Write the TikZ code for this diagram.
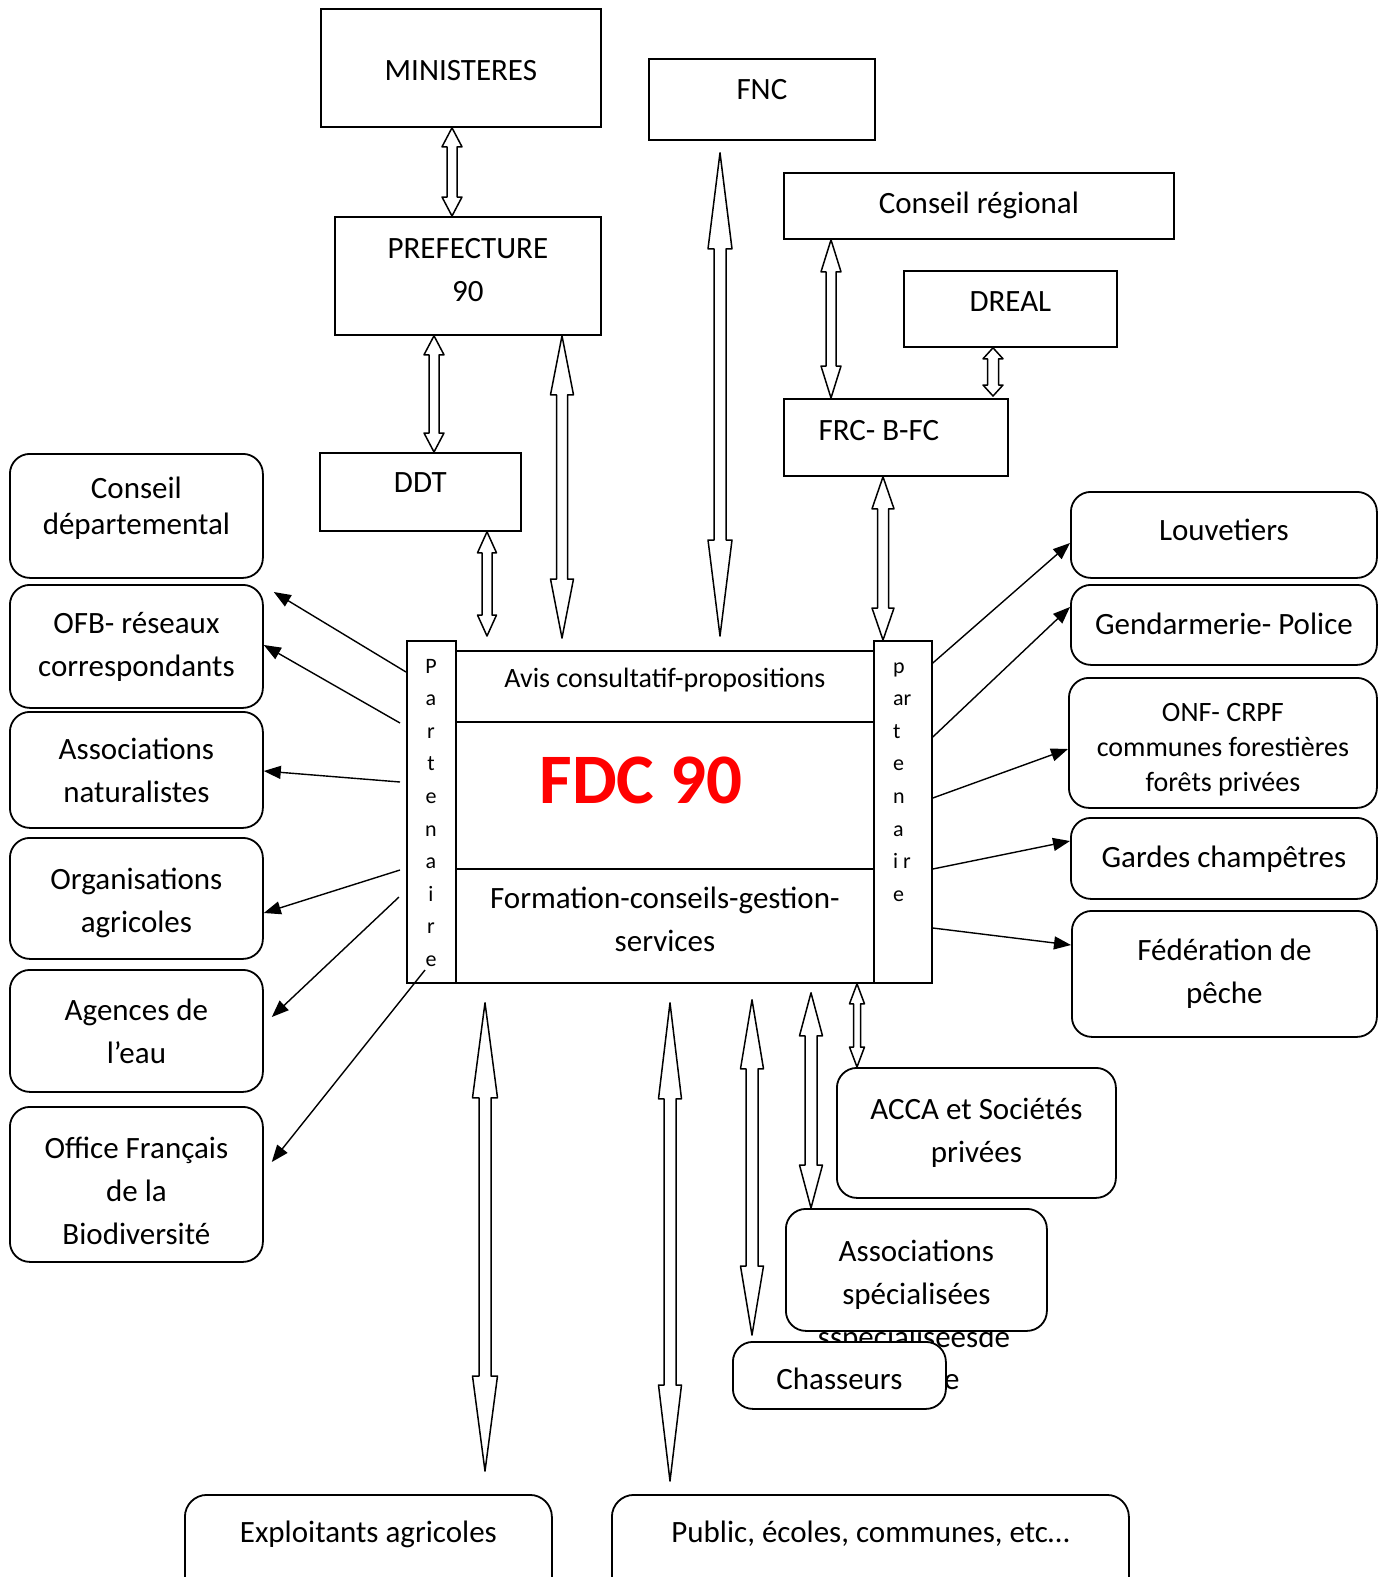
\documentclass[tikz,border=0pt]{standalone}
\usepackage{fontspec}
\setmainfont{Carlito}
\usetikzlibrary{arrows.meta,calc}

\definecolor{fdcred}{RGB}{255,0,0}
\newcommand{\boxfont}{\fontsize{31pt}{43pt}\selectfont}
\newcommand{\tightfont}{\fontsize{31pt}{36pt}\selectfont}
\newcommand{\smallboxfont}{\fontsize{28pt}{35pt}\selectfont}
\newcommand{\partfont}{\fontsize{22pt}{26pt}\selectfont}
\newcommand{\fdcfont}{\fontsize{71pt}{80pt}\selectfont\bfseries}
% invisible struts to move multi-line text up (depth) or down (height)
\newcommand{\upby}[1]{\rule[-#1]{0pt}{0pt}}
\newcommand{\downby}[1]{\rule{0pt}{#1}}

% hollow double arrow: x, top end, bottom end, head length, head half width, body half width
\newcommand{\dblarrow}[6]{%
  \path[blockarrow] let \p1=(#2), \p2=(#3) in
    (#1pt,\y1) -- (#1pt+#5pt,\y1-#4pt) -- (#1pt+#6pt,\y1-#4pt)
    -- (#1pt+#6pt,\y2+#4pt) -- (#1pt+#5pt,\y2+#4pt) -- (#1pt,\y2)
    -- (#1pt-#5pt,\y2+#4pt) -- (#1pt-#6pt,\y2+#4pt)
    -- (#1pt-#6pt,\y1-#4pt) -- (#1pt-#5pt,\y1-#4pt) -- cycle;}

\begin{document}
\begin{tikzpicture}[x=1pt, y=-1pt,
    rect/.style={draw, line width=1.8pt, anchor=north west, inner sep=0pt, font=\boxfont},
    rbox/.style={rect, rounded corners=20pt},
    blockarrow/.style={draw, line width=1.5pt, fill=white, line join=round},
    thinarrow/.style={line width=1.4pt, -{Triangle[length=17pt,width=13pt]}},
    parttext/.style={font=\partfont, inner sep=0pt}]
\useasboundingbox (0,0) rectangle (1386,1577);
\clip (0,0) rectangle (1386,1577);

% Administrations (top)
\node[rect, minimum width=280, text height=72, text depth=46] (mini) at (320,8) {MINISTERES};
\node[rect, minimum width=226, text height=41, text depth=40] (fnc) at (648,58) {FNC};
\node[rect, minimum width=390, text height=41, text depth=25] (creg) at (783,172) {Conseil régional};
\node[rect, minimum width=213, text height=41, text depth=35] (dreal) at (903,270) {DREAL};
\node[rect, minimum width=266, minimum height=118, align=center] (pref) at (334,216) {PREFECTURE\\90\upby{12pt}};
\node[rect, minimum width=201, text height=40, text depth=38] (ddt) at (319,452) {DDT};
\node[rect, minimum width=224, text height=42, text depth=35] (frc) at (783,398) {FRC- B-FC\hspace*{34pt}};

% FDC 90
\node[rect, minimum width=49, minimum height=342] (lpart) at (406,640) {};
\node[rect, minimum width=58, minimum height=342] (rpart) at (873,640) {};
\node[rect, minimum width=418, text height=37, text depth=34, font=\smallboxfont] (avis) at (455,650) {Avis consultatif-propositions};
\node[rect, minimum width=418, minimum height=147] (fdcbox) at (455,721) {};
\node[font=\fdcfont, text=fdcred, inner sep=0pt] (fdctitle) at (641,780) {FDC 90};
\node[rect, minimum width=418, minimum height=114, align=center] (formation) at (455,868) {Formation-conseils-gestion-\\services\upby{13pt}};
\foreach \c [count=\i] in {P,a,r,t,e,n,a,i,r,e}
  \node[parttext, anchor=base] (lp\i) at (431,{673+32.6*(\i-1)}) {\c};
\foreach \c [count=\i] in {p,ar,t,e,n,a,i r,e}
  \node[parttext, anchor=base west] (rp\i) at (893,{673+32.6*(\i-1)}) {\c};

% Partenaires gauche
\node[rbox, minimum width=253, minimum height=124, align=center, font=\tightfont] (cdep) at (9,453) {Conseil\\départemental\upby{21pt}};
\node[rbox, minimum width=253, minimum height=123, align=center] (ofb) at (9,584) {OFB- réseaux\\correspondants};
\node[rbox, minimum width=253, minimum height=116, align=center] (asnat) at (9,711) {Associations\\naturalistes};
\node[rbox, minimum width=253, minimum height=121, align=center] (orga) at (9,837) {\downby{31pt}Organisations\\agricoles};
\node[rbox, minimum width=253, minimum height=122, align=center] (agences) at (9,969) {Agences de\\l’eau};
\node[rbox, minimum width=253, minimum height=155, align=center] (office) at (9,1106) {\downby{35pt}Office Français\\de la\\Biodiversité};

% Partenaires droite
\node[rbox, minimum width=306, text height=49, text depth=37] (louv) at (1070,491) {Louvetiers};
\node[rbox, minimum width=306, text height=50, text depth=30] (gend) at (1070,584) {Gendarmerie- Police};
\node[rbox, minimum width=308, minimum height=130, align=center, font=\smallboxfont] (onf) at (1068,677) {\downby{32pt}ONF- CRPF\\communes forestières\\forêts privées};
\node[rbox, minimum width=306, text height=50, text depth=31] (gardes) at (1070,817) {Gardes champêtres};
\node[rbox, minimum width=305, minimum height=126, align=center] (fede) at (1071,910) {Fédération de\\pêche};

% Chasse
\node[rbox, minimum width=279, minimum height=130, align=center] (acca) at (836,1067) {ACCA et Sociétés\\privées};
\node[font=\boxfont, anchor=base, inner sep=0pt] (asspover) at (914,1347) {sspécialiséesde};
\node[font=\boxfont, anchor=base west, inner sep=0pt] (asspover2) at (944,1389) {e};
\node[rbox, fill=white, minimum width=261, minimum height=122, align=center] (assp) at (785,1208) {\downby{31pt}Associations\\spécialisées};
\node[rbox, fill=white, minimum width=213, text height=48, text depth=19] (chass) at (732,1341) {Chasseurs};

% Bas
\node[rbox, rounded corners=22pt, minimum width=367, text height=48, text depth=120] (expl) at (184,1494) {Exploitants agricoles};
\node[rbox, rounded corners=22pt, minimum width=517, text height=48, text depth=120] (public) at (611,1494) {Public, écoles, communes, etc…};

% Doubles fleches
\dblarrow{452}{mini.south}{pref.north}{19}{10}{5}
\dblarrow{434}{pref.south}{ddt.north}{19}{10}{5}
\dblarrow{562}{pref.south}{[yshift=2pt]lpart.north}{59}{11.5}{5.5}
\dblarrow{720}{[yshift=-12pt]fnc.south}{[yshift=4pt]lpart.north}{96}{12}{6}
\dblarrow{831}{creg.south}{frc.north}{32}{10}{5}
\dblarrow{993}{dreal.south}{[yshift=2pt]frc.north}{11}{10}{5.5}
\dblarrow{487}{ddt.south}{[yshift=4pt]lpart.north}{21}{9.5}{5}
\dblarrow{883}{frc.south}{rpart.north}{32}{11}{5.5}
\dblarrow{485}{[yshift=-19pt]lpart.south}{[yshift=23pt]expl.north}{95}{12.5}{6}
\dblarrow{670}{[yshift=-19pt]lpart.south}{[yshift=13pt]public.north}{96}{11.5}{6}
\dblarrow{752}{[yshift=-16pt]lpart.south}{[yshift=6pt]chass.north}{69}{11.5}{6}
\dblarrow{811}{[yshift=-9pt]lpart.south}{assp.north}{43}{11.5}{6}
\dblarrow{857}{lpart.south}{acca.north}{20}{7.5}{3.5}

% Fleches vers les partenaires
\draw[thinarrow] (lpart.west |- 0,672) -- ($(ofb.north east)+(10,8)$);
\draw[thinarrow] ($(lpart.west |- 0,723)+(-6,0)$) -- (ofb.east |- 0,645);
\draw[thinarrow] ($(lpart.west |- 0,782)+(-6,0)$) -- (asnat.east |- 0,771);
\draw[thinarrow] ($(lpart.west |- 0,870)+(-6,0)$) -- (orga.east |- 0,913);
\draw[thinarrow] ($(lpart.west |- 0,897)+(-7,0)$) -- ($(agences.east |- 0,1017)+(8,0)$);
\draw[thinarrow] ($(lpart.west |- 0,970)+(19,0)$) -- ($(office.east |- 0,1162)+(8,0)$);
\draw[thinarrow] (rpart.east |- 0,663) -- (louv.west |- 0,543);
\draw[thinarrow] (rpart.east |- 0,737) -- (gend.west |- 0,607);
\draw[thinarrow] (rpart.east |- 0,798) -- (onf.west |- 0,749);
\draw[thinarrow] (rpart.east |- 0,869) -- (gardes.west |- 0,841);
\draw[thinarrow] (rpart.east |- 0,928) -- (fede.west |- 0,945);
\end{tikzpicture}
\end{document}
